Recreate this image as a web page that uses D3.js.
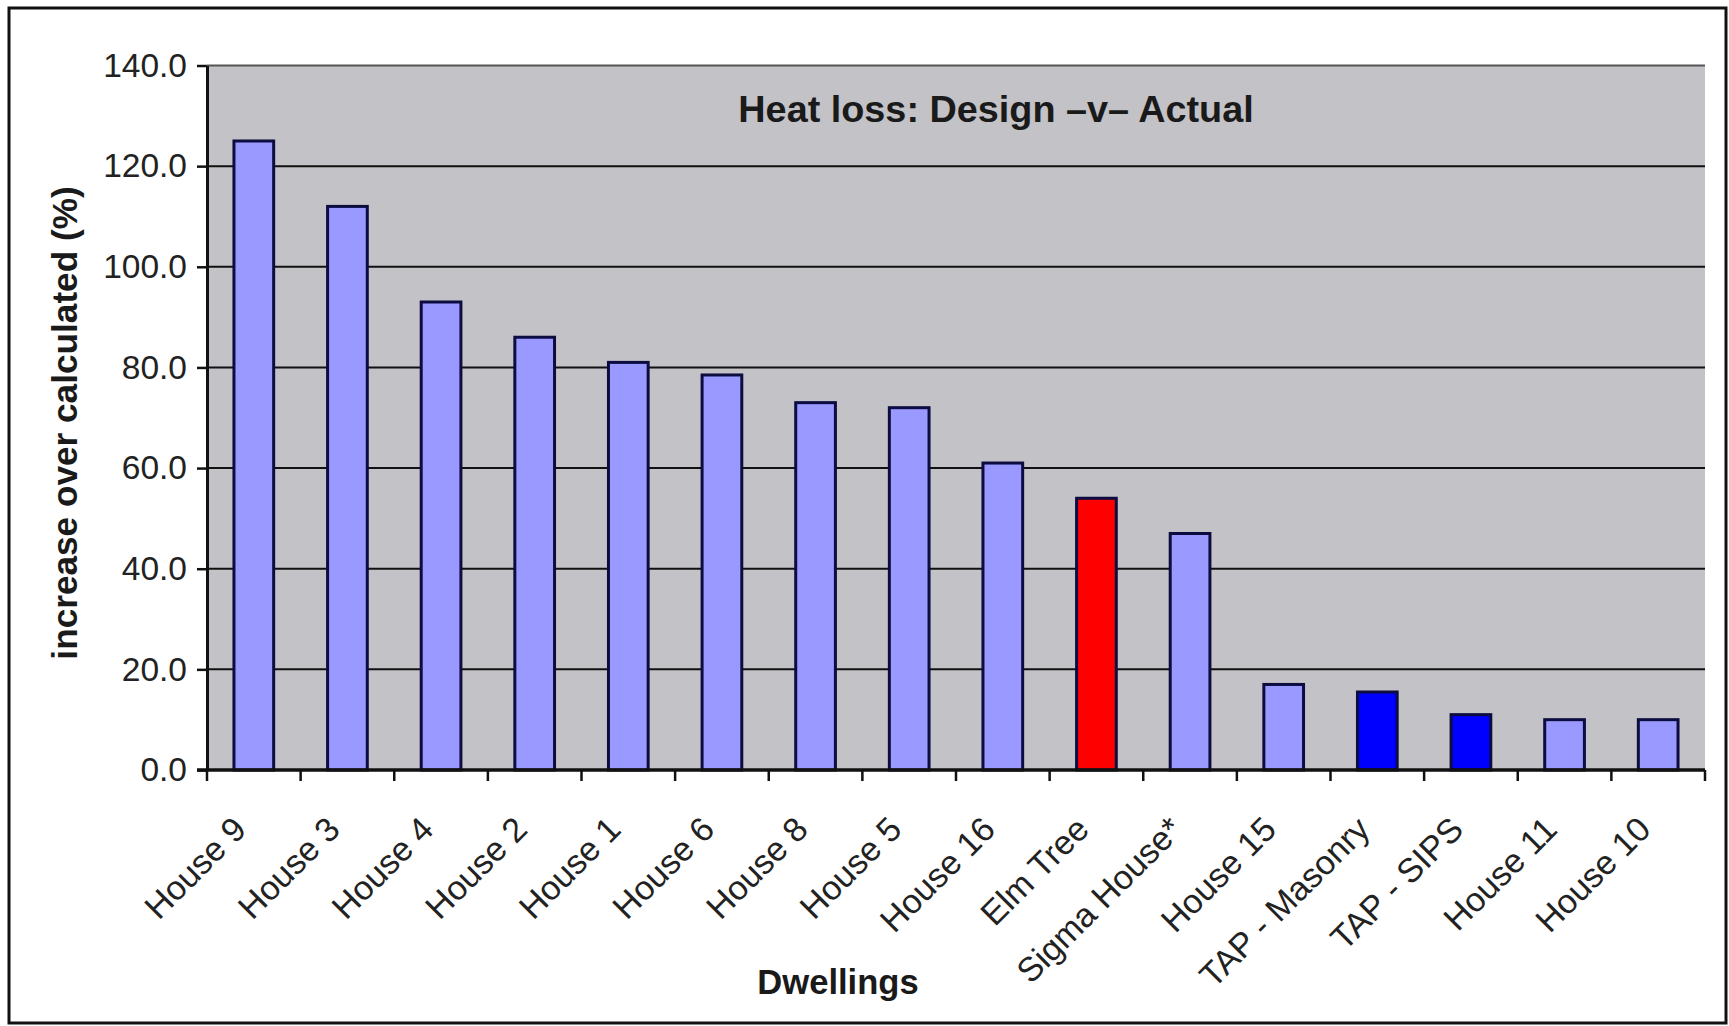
<!DOCTYPE html>
<html>
<head>
<meta charset="utf-8">
<script src="https://cdn.jsdelivr.net/npm/d3@7"></script>
<style>
  body { margin: 0; background: #fff; }
  svg { display: block; font-family: "Liberation Sans", Arial, sans-serif; }
</style>
</head>
<body>
<svg width="1729" height="1026"></svg>
<script>
// data
var dwellings = ["House 9", "House 3", "House 4", "House 2", "House 1", "House 6", "House 8", "House 5",
  "House 16", "Elm Tree", "Sigma House*", "House 15", "TAP - Masonry", "TAP - SIPS", "House 11", "House 10"];
var increase = [125, 112, 93, 86, 81, 78.5, 73, 72, 61, 54, 47, 17, 15.5, 11, 10, 10];
// which group each dwelling belongs to (elm tree and the TAP ones are picked out)
var group = ["other", "other", "other", "other", "other", "other", "other", "other",
  "other", "elm", "other", "other", "tap", "tap", "other", "other"];
var yTicks = [0, 20, 40, 60, 80, 100, 120, 140];

var data = dwellings.map(function(d, i) {
  return { name: d, value: increase[i], group: group[i] };
});

var svg = d3.select('svg');

// outer frame
svg.append('rect')
  .attr('x', 9).attr('y', 8)
  .attr('width', 1717).attr('height', 1015)
  .attr('fill', 'none')
  .attr('stroke', '#111')
  .attr('stroke-width', 3);

var x = d3.scaleBand().domain(dwellings).range([207, 1705]);
var y = d3.scaleLinear().domain([0, 140]).range([770, 65.5]);
var color = d3.scaleOrdinal().domain(["other", "elm", "tap"]).range(["#9999ff", "#ff0000", "#0000ff"]);

// plot background
svg.append('rect')
  .attr('x', x.range()[0]).attr('y', y(140))
  .attr('width', x.range()[1] - x.range()[0])
  .attr('height', y(0) - y(140))
  .attr('fill', '#c3c2c6');

// gridlines
svg.append('g')
  .selectAll('line')
  .data(yTicks.filter(function(d) { return d > 0; }))
  .join('line')
  .attr('x1', x.range()[0])
  .attr('x2', x.range()[1])
  .attr('y1', function(d) { return y(d); })
  .attr('y2', function(d) { return y(d); })
  .attr('stroke', function(d) { return d == 140 ? '#555' : '#111'; })
  .attr('stroke-width', 2);

// bars
var barW = x.bandwidth() * 0.424;
svg.append('g')
  .selectAll('rect')
  .data(data)
  .join('rect')
  .attr('x', function(d) { return x(d.name) + (x.bandwidth() - barW) / 2; })
  .attr('y', function(d) { return y(d.value); })
  .attr('width', barW)
  .attr('height', function(d) { return y(0) - y(d.value); })
  .attr('fill', function(d) { return color(d.group); })
  .attr('stroke', '#0c0c40')
  .attr('stroke-width', 3);

// y axis
var yAxis = svg.append('g')
  .attr('transform', 'translate(' + x.range()[0] + ',0)')
  .call(d3.axisLeft(y).tickValues(yTicks).tickFormat(d3.format('.1f')).tickSize(10).tickSizeOuter(0).tickPadding(10));
yAxis.select('.domain').attr('stroke', '#111').attr('stroke-width', 3);
yAxis.selectAll('.tick line').attr('stroke', '#111').attr('stroke-width', 2.5);
yAxis.selectAll('.tick text')
  .attr('font-size', 33.5)
  .attr('fill', '#222')
  .attr('font-family', '"Liberation Sans", Arial, sans-serif');

// x axis line and the ticks between dwellings
svg.append('line')
  .attr('x1', x.range()[0] - 10).attr('x2', x.range()[1])
  .attr('y1', y(0)).attr('y2', y(0))
  .attr('stroke', '#111').attr('stroke-width', 3.5);

var bounds = dwellings.map(function(d) { return x(d); }).concat([x.range()[1]]);
svg.append('g')
  .selectAll('line')
  .data(bounds)
  .join('line')
  .attr('x1', function(d) { return d; })
  .attr('x2', function(d) { return d; })
  .attr('y1', y(0))
  .attr('y2', y(0) + 11)
  .attr('stroke', '#111')
  .attr('stroke-width', 2.5);

// slanted dwelling names
svg.append('g')
  .selectAll('text')
  .data(dwellings)
  .join('text')
  .attr('transform', function(d) {
    return 'translate(' + (x(d) + x.bandwidth() / 2 - 14) + ',' + (y(0) + 53) + ') rotate(-45)';
  })
  .attr('text-anchor', 'end')
  .attr('dy', '0.35em')
  .attr('font-size', 34)
  .attr('fill', '#222')
  .text(function(d) { return d; });

// titles
svg.append('text')
  .attr('x', 996).attr('y', 122)
  .attr('text-anchor', 'middle')
  .attr('font-size', 37.8)
  .attr('font-weight', 'bold')
  .attr('fill', '#1a1a1a')
  .text('Heat loss: Design \u2013v\u2013 Actual');

svg.append('text')
  .attr('x', 838).attr('y', 994)
  .attr('text-anchor', 'middle')
  .attr('font-size', 34.6)
  .attr('font-weight', 'bold')
  .attr('fill', '#1a1a1a')
  .text('Dwellings');

svg.append('text')
  .attr('transform', 'translate(77,423) rotate(-90)')
  .attr('text-anchor', 'middle')
  .attr('font-size', 35.2)
  .attr('font-weight', 'bold')
  .attr('fill', '#1a1a1a')
  .text('increase over calculated (%)');
</script>
</body>
</html>
